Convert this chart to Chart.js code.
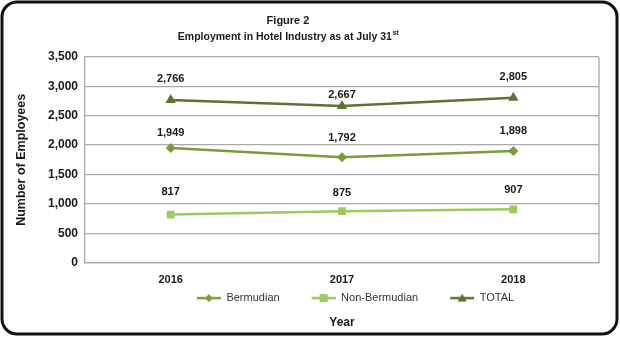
<!DOCTYPE html>
<html>
<head>
<meta charset="utf-8">
<script src="https://cdn.jsdelivr.net/npm/chart.js@4/dist/chart.umd.min.js"></script>
<style>
    html, body { margin: 0; padding: 0; background: #fff; }
</style>
</head>
<body>
<canvas id="myChart" width="620" height="337"></canvas>
<script>
let years = ['2016', '2017', '2018'];
let bermudian = [1949, 1792, 1898];
let nonBermudian = [817, 875, 907];
let total = [2766, 2667, 2805];
let yMin = 0;
let yMax = 3500;
let yStep = 500;

let fontFamily = '"Liberation Sans", Arial, Helvetica, sans-serif';
Chart.defaults.font.family = fontFamily;
Chart.defaults.color = '#1a1a1a';

let colBerm = '#7b9b3b';
let colNon = '#9bcb5f';
let colTotal = '#5b7330';

// small picture for the legend: line with the marker in the middle
function legendIcon(color, shape) {
    let c = document.createElement('canvas');
    c.width = 51;
    c.height = 12;
    let g = c.getContext('2d');
    g.strokeStyle = color;
    g.fillStyle = color;
    g.lineWidth = 2.5;
    g.beginPath();
    g.moveTo(27, 6);
    g.lineTo(51, 6);
    g.stroke();
    g.beginPath();
    if (shape === 'diamond') {
        g.moveTo(39, 2); g.lineTo(43, 6); g.lineTo(39, 10); g.lineTo(35, 6);
    } else if (shape === 'square') {
        g.rect(35, 2, 8, 8);
    } else {
        g.moveTo(39, 1.5); g.lineTo(43.5, 9.5); g.lineTo(34.5, 9.5);
    }
    g.closePath();
    g.fill();
    return c;
}

let valueLabels = {
    id: 'valueLabels',
    afterDatasetsDraw: function (chart) {
        let ctx = chart.ctx;
        ctx.save();
        ctx.font = 'bold 11px ' + fontFamily;
        ctx.fillStyle = '#1a1a1a';
        ctx.textAlign = 'center';
        ctx.textBaseline = 'middle';
        chart.data.datasets.forEach(function (ds, i) {
            chart.getDatasetMeta(i).data.forEach(function (pt, j) {
                ctx.fillText(ds.data[j].toLocaleString('en-US'), pt.x, pt.y - ds.labelShift[j]);
            });
        });
        ctx.restore();
    }
};

let frame = {
    id: 'frame',
    beforeDatasetsDraw: function (chart) {
        let a = chart.chartArea;
        let ctx = chart.ctx;
        ctx.save();
        ctx.strokeStyle = '#a9a9a9';
        ctx.lineWidth = 1.3;
        ctx.beginPath();
        ctx.moveTo(a.right, a.top);
        ctx.lineTo(a.right, a.bottom);
        ctx.stroke();
        ctx.restore();
    },
    afterDraw: function (chart) {
        let ctx = chart.ctx;
        ctx.save();
        // title
        ctx.fillStyle = '#1a1a1a';
        ctx.textAlign = 'center';
        ctx.textBaseline = 'middle';
        ctx.font = 'bold 11px ' + fontFamily;
        ctx.fillText('Figure 2', 288, 21);
        let line2 = 'Employment in Hotel Industry as at July 31';
        ctx.font = 'bold 10.5px ' + fontFamily;
        let w = ctx.measureText(line2).width;
        ctx.font = 'bold 7px ' + fontFamily;
        let ws = ctx.measureText('st').width;
        let x0 = 288 - (w + ws) / 2;
        ctx.textAlign = 'left';
        ctx.font = 'bold 10.5px ' + fontFamily;
        ctx.fillText(line2, x0, 37);
        ctx.font = 'bold 7px ' + fontFamily;
        ctx.fillText('st', x0 + w + 0.5, 33);
        // rounded outer border
        ctx.strokeStyle = '#111';
        ctx.lineWidth = 3;
        ctx.beginPath();
        ctx.roundRect(2, 2, 615, 332, 15);
        ctx.stroke();
        ctx.restore();
    }
};

let ctx = document.getElementById('myChart').getContext('2d');
let myChart = new Chart(ctx, {
    type: 'line',
    data: {
        labels: years,
        datasets: [
            {
                label: 'Bermudian',
                data: bermudian,
                borderColor: colBerm,
                backgroundColor: colBerm,
                borderWidth: 2.5,
                pointStyle: 'rectRot',
                pointRadius: 5,
                pointBorderWidth: 0,
                labelShift: [15, 19, 20],
                legendIcon: legendIcon(colBerm, 'diamond')
            },
            {
                label: 'Non-Bermudian',
                data: nonBermudian,
                borderColor: colNon,
                backgroundColor: colNon,
                borderWidth: 2.5,
                pointStyle: 'rect',
                pointRadius: 5.5,
                pointBorderWidth: 0,
                labelShift: [23, 18, 19],
                legendIcon: legendIcon(colNon, 'square')
            },
            {
                label: 'TOTAL',
                data: total,
                borderColor: colTotal,
                backgroundColor: colTotal,
                borderWidth: 2.5,
                pointStyle: 'triangle',
                pointRadius: 6,
                pointBorderWidth: 0,
                labelShift: [21, 11, 21],
                legendIcon: legendIcon(colTotal, 'triangle')
            }
        ]
    },
    options: {
        responsive: false,
        animation: false,
        layout: {
            padding: { top: 57, left: 8, right: 21, bottom: 7 }
        },
        plugins: {
            legend: {
                position: 'bottom',
                fullSize: false,
                labels: {
                    usePointStyle: true,
                    pointStyleWidth: 51,
                    boxHeight: 12,
                    padding: 5,
                    color: '#333',
                    font: { size: 11 },
                    generateLabels: function (chart) {
                        return chart.data.datasets.map(function (ds, i) {
                            return {
                                text: ds.label,
                                pointStyle: ds.legendIcon,
                                fillStyle: ds.borderColor,
                                strokeStyle: ds.borderColor,
                                lineWidth: 0,
                                hidden: false,
                                datasetIndex: i,
                                fontColor: '#333'
                            };
                        });
                    }
                }
            },
            subtitle: {
                display: true,
                text: 'Year',
                position: 'bottom',
                fullSize: false,
                color: '#1a1a1a',
                font: { size: 12, weight: 'bold' },
                padding: { top: 2, bottom: 0 }
            },
            tooltip: { enabled: false }
        },
        scales: {
            x: {
                offset: true,
                grid: { display: false, drawTicks: false },
                border: { color: '#a9a9a9', width: 1.3 },
                ticks: {
                    padding: 11,
                    color: '#1a1a1a',
                    font: { size: 11, weight: 'bold' }
                },
                afterFit: function (scale) {
                    scale.height = 25;
                }
            },
            y: {
                min: yMin,
                max: yMax,
                grid: { color: '#a9a9a9', lineWidth: 1.3, drawTicks: false },
                border: { color: '#a9a9a9', width: 1.3 },
                ticks: {
                    stepSize: yStep,
                    padding: 7,
                    color: '#1a1a1a',
                    font: { size: 12, weight: 'bold' }
                },
                title: {
                    display: true,
                    text: 'Number of Employees',
                    color: '#1a1a1a',
                    font: { size: 12.5, weight: 'bold' },
                    padding: { top: 6.5, bottom: 0 }
                },
                afterFit: function (scale) {
                    scale.width = 77;
                }
            }
        }
    },
    plugins: [valueLabels, frame]
});
</script>
</body>
</html>
